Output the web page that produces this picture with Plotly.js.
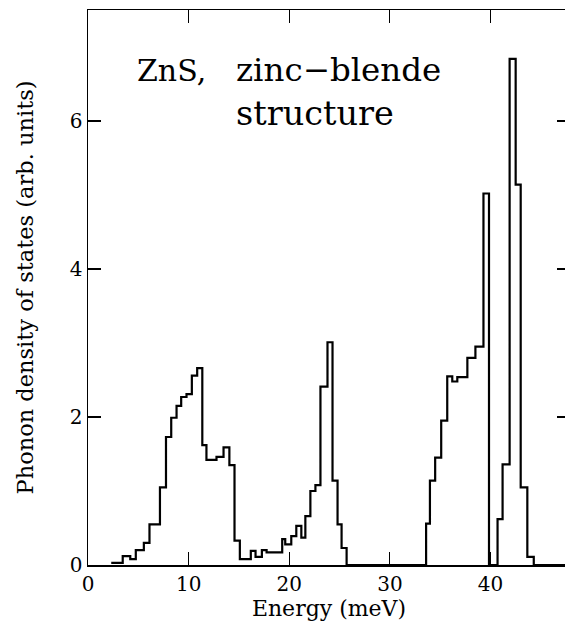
<!DOCTYPE html>
<html>
<head>
<meta charset="utf-8">
<script src="https://cdn.plot.ly/plotly-3.0.1.min.js"></script>
<style>
html,body{margin:0;padding:0;background:#fff;overflow:hidden;}
#chart{width:572px;height:624px;}
</style>
</head>
<body>
<div id="chart"></div>
<script>
// Left edge of each histogram step (meV)
var binStart = [2.31, 3.45, 4.2, 4.75, 5.55, 6.11, 7.15, 7.75, 8.27, 8.8, 9.26, 9.79,
  10.32, 10.85, 11.36, 11.77, 12.77, 13.47, 14.05, 14.56, 15.09, 16.18, 16.65, 17.28,
  17.75, 19.3, 19.6, 20.2, 20.7, 21.2, 21.6, 22.1, 22.6, 23.1, 23.8, 24.3, 24.8, 25.2,
  25.7, 33.6, 33.98, 34.5, 35.1, 35.7, 36.2, 36.7, 37.7, 38.5, 39.3, 39.85, 40.7,
  41.2, 41.9, 42.5, 43.0, 43.66, 44.3, 47.9];
// Phonon density of states in each step (arb. units)
var dos = [0.03, 0.12, 0.08, 0.2, 0.3, 0.55, 1.05, 1.73, 1.99, 2.15, 2.27, 2.31,
  2.56, 2.66, 1.62, 1.42, 1.46, 1.59, 1.35, 0.33, 0.08, 0.19, 0.11, 0.2,
  0.17, 0.35, 0.28, 0.39, 0.53, 0.37, 0.66, 1.0, 1.08, 2.41, 3.01, 1.14, 0.55, 0.23,
  0, 0.56, 1.14, 1.45, 1.95, 2.55, 2.48, 2.54, 2.8, 2.95, 5.02, 0, 0.62,
  1.36, 6.84, 5.14, 1.05, 0.11, 0, 0];

var xTicks = [0, 10, 20, 30, 40];
var yTicks = [0, 2, 4, 6];
var xTitle = 'Energy (meV)';
var yTitle = 'Phonon density of states (arb. units)';
var labelLines = ['ZnS,', 'zinc\u2212blende', 'structure'];

var serif = 'DejaVu Serif, serif';

var trace = {
  x: binStart, y: dos, type: 'scatter', mode: 'lines',
  line: {shape: 'hv', color: '#000', width: 2.2},
  hoverinfo: 'skip', showlegend: false
};

var axisCommon = {
  showgrid: false, zeroline: false, showline: true, linecolor: '#000', linewidth: 1.5,
  mirror: 'ticks', ticks: 'inside', ticklen: 13, tickwidth: 1.2, tickcolor: '#000',
  tickfont: {family: serif, size: 20, color: '#000'}
};

var W = 482, H = 555;
function ann(txt, px, py, size) {
  return {text: txt, xref: 'paper', yref: 'paper', x: (px - 88) / W, y: (565 - py) / H,
    xanchor: 'left', yanchor: 'middle', showarrow: false,
    font: {family: serif, size: size, color: '#000'}};
}

var layout = {
  width: 572, height: 624,
  margin: {l: 88, r: 2, t: 10, b: 59},
  paper_bgcolor: '#fff', plot_bgcolor: '#fff',
  xaxis: Object.assign({}, axisCommon, {
    range: [0, 47.9], tickvals: xTicks, ticktext: xTicks.map(String),
    title: {text: xTitle, font: {family: serif, size: 22, color: '#000'}, standoff: 6}
  }),
  yaxis: Object.assign({}, axisCommon, {
    range: [0, 7.5], tickvals: yTicks, ticktext: yTicks.map(String),
    title: {text: yTitle, font: {family: serif, size: 22.5, color: '#000'}, standoff: 30}
  }),
  annotations: [
    ann(labelLines[0], 135, 70, 30),
    ann(labelLines[1], 234, 70, 32.5),
    ann(labelLines[2], 234, 114, 33.5)
  ]
};

Plotly.newPlot('chart', [trace], layout, {displayModeBar: false, staticPlot: true});
</script>
</body>
</html>
